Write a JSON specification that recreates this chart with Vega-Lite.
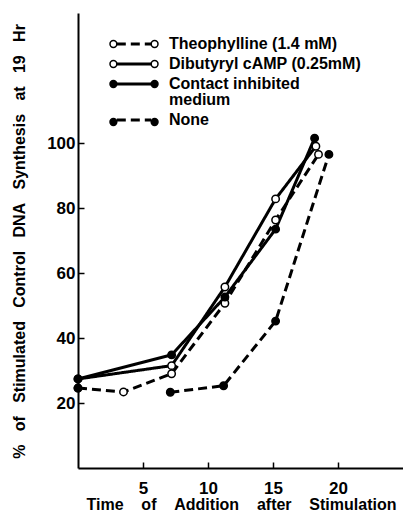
{
  "$schema": "https://vega.github.io/schema/vega-lite/v6.json",
  "width": 325,
  "height": 455,
  "autosize": {"type": "none"},
  "padding": {"left": 78, "top": 13, "right": 0, "bottom": 49},
  "background": "white",
  "config": {
    "view": {"stroke": null},
    "font": "Liberation Sans",
    "axis": {
      "domainColor": "black",
      "domainWidth": 2,
      "tickColor": "black",
      "tickWidth": 1.5,
      "tickSize": -6,
      "grid": false,
      "labelFont": "Liberation Sans",
      "labelFontSize": 17,
      "labelFontWeight": "bold",
      "labelColor": "black",
      "titleFont": "Liberation Sans",
      "titleFontSize": 16,
      "titleFontWeight": "bold",
      "titleColor": "black"
    }
  },
  "data": {
    "values": [
      {"series": "Theophylline (1.4 mM)", "time": 0, "pct": 24.6},
      {"series": "Theophylline (1.4 mM)", "time": 3.5, "pct": 23.4},
      {"series": "Theophylline (1.4 mM)", "time": 7.2, "pct": 29.0},
      {"series": "Theophylline (1.4 mM)", "time": 11.3, "pct": 50.7},
      {"series": "Theophylline (1.4 mM)", "time": 15.2, "pct": 76.3},
      {"series": "Theophylline (1.4 mM)", "time": 18.5, "pct": 96.5},
      {"series": "Dibutyryl cAMP (0.25mM)", "time": 0, "pct": 27.4},
      {"series": "Dibutyryl cAMP (0.25mM)", "time": 7.2, "pct": 31.5},
      {"series": "Dibutyryl cAMP (0.25mM)", "time": 11.3, "pct": 55.7},
      {"series": "Dibutyryl cAMP (0.25mM)", "time": 15.2, "pct": 82.8},
      {"series": "Dibutyryl cAMP (0.25mM)", "time": 18.3, "pct": 99.0},
      {"series": "Contact inhibited medium", "time": 0, "pct": 27.4},
      {"series": "Contact inhibited medium", "time": 7.2, "pct": 34.8},
      {"series": "Contact inhibited medium", "time": 11.3, "pct": 52.6},
      {"series": "Contact inhibited medium", "time": 15.2, "pct": 73.5},
      {"series": "Contact inhibited medium", "time": 18.2, "pct": 101.5},
      {"series": "None", "time": 0, "pct": 24.6},
      {"series": "None", "time": 7.1, "pct": 23.3},
      {"series": "None", "time": 11.2, "pct": 25.3},
      {"series": "None", "time": 15.2, "pct": 45.2},
      {"series": "None", "time": 19.3, "pct": 96.5}
    ]
  },
  "encoding": {
    "x": {
      "field": "time",
      "type": "quantitative",
      "scale": {"domain": [0, 25], "nice": false},
      "axis": {
        "values": [5, 10, 15, 20],
        "labelPadding": 18,
        "title": "Time\u00a0\u00a0\u00a0\u00a0of\u00a0\u00a0\u00a0\u00a0Addition\u00a0\u00a0\u00a0\u00a0after\u00a0\u00a0\u00a0\u00a0Stimulation",
        "titleBaseline": "middle",
        "titleY": 36,
        "titleX": 163
      }
    },
    "y": {
      "field": "pct",
      "type": "quantitative",
      "scale": {"domain": [0, 140], "nice": false},
      "axis": {
        "values": [20, 40, 60, 80, 100],
        "labelPadding": 9,
        "title": "%\u00a0\u00a0\u00a0of\u00a0\u00a0\u00a0Stimulated\u00a0\u00a0\u00a0Control\u00a0\u00a0\u00a0DNA\u00a0\u00a0\u00a0Synthesis\u00a0\u00a0\u00a0at\u00a0\u00a0\u00a019\u00a0\u00a0\u00a0Hr",
        "titleAngle": 270,
        "titleBaseline": "middle",
        "titleX": -59,
        "titleY": 228
      }
    }
  },
  "layer": [
    {
      "transform": [{"filter": "datum.series != 'None' || datum.time > 0"}],
      "mark": {"type": "line", "color": "black", "strokeWidth": 3},
      "encoding": {
        "strokeDash": {
          "field": "series",
          "type": "nominal",
          "scale": {
            "domain": ["Theophylline (1.4 mM)", "Dibutyryl cAMP (0.25mM)", "Contact inhibited medium", "None"],
            "range": [[9, 5], [1, 0], [1, 0], [9, 5]]
          },
          "legend": {
            "orient": "none",
            "legendX": 23,
            "legendY": 23,
            "title": null,
            "padding": 0,
            "symbolType": "M1.56,0L8.44,0",
            "symbolSize": 100,
            "symbolStrokeWidth": 3,
            "symbolStrokeColor": "black",
            "labelOffset": 52,
            "labelFont": "Liberation Sans",
            "labelFontSize": 16,
            "labelFontWeight": "bold",
            "labelColor": "black",
            "labelLimit": 400,
            "rowPadding": 4,
            "labelExpr": "datum.label == 'Contact inhibited medium' ? ['Contact inhibited', 'medium'] : datum.label",
            "encode": {"labels": {"update": {"lineHeight": {"value": 16}}}}
          }
        }
      }
    },
    {
      "mark": {"type": "circle", "size": 55, "stroke": "black", "strokeWidth": 1.5, "opacity": 1},
      "encoding": {
        "fill": {
          "field": "series",
          "type": "nominal",
          "scale": {
            "domain": ["Theophylline (1.4 mM)", "Dibutyryl cAMP (0.25mM)", "Contact inhibited medium", "None"],
            "range": ["white", "white", "black", "black"]
          },
          "legend": {
            "orient": "top-left",
            "offset": 23,
            "title": null,
            "padding": 0,
            "symbolType": "M0.2,0a0.68,0.68 0 1,0 1.36,0a0.68,0.68 0 1,0 -1.36,0ZM8.44,0a0.68,0.68 0 1,0 1.36,0a0.68,0.68 0 1,0 -1.36,0Z",
            "symbolSize": 100,
            "symbolStrokeWidth": 1.5,
            "symbolStrokeColor": "black",
            "labelOffset": 52,
            "labelFont": "Liberation Sans",
            "labelFontSize": 16,
            "labelFontWeight": "bold",
            "labelOpacity": 0,
            "labelLimit": 400,
            "rowPadding": 4,
            "labelExpr": "datum.label == 'Contact inhibited medium' ? ['Contact inhibited', 'medium'] : datum.label",
            "encode": {"labels": {"update": {"lineHeight": {"value": 16}}}}
          }
        }
      }
    }
  ]
}
